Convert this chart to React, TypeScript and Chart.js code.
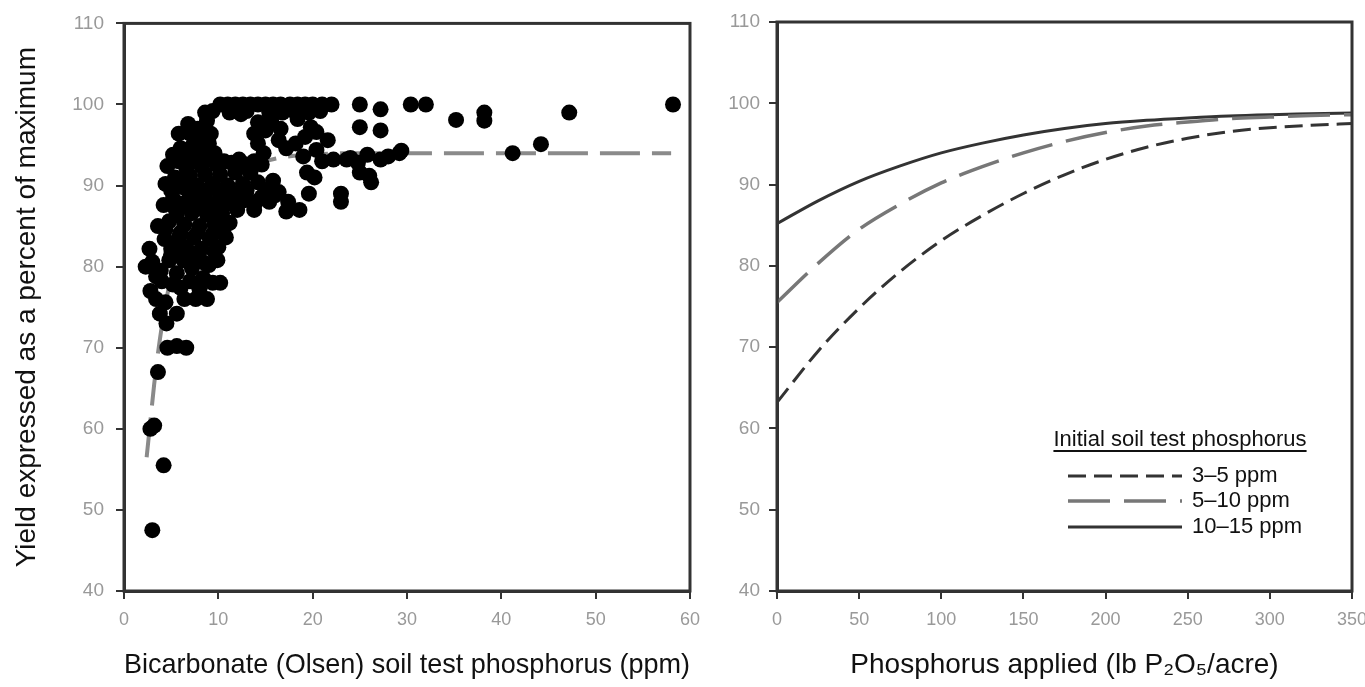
import React, { useEffect, useRef } from 'react';
import { Chart, registerables } from 'chart.js';

Chart.register(...registerables);

const FONT = '"Liberation Sans", Arial, Helvetica, sans-serif';

// ---------- Left panel: soil test P vs relative yield ----------
const olsenP = [
  3.0, 4.2, 2.8, 3.2, 3.6, 4.6, 5.6, 6.6, 4.5, 3.8, 5.6, 2.8, 3.4, 4.4, 6.4, 7.6, 8.8, 10.2,
  2.3, 3.0, 3.9, 4.8, 5.6, 6.3, 7.2, 8.0, 9.0, 9.9, 5.2, 7.0, 8.4,
  2.7, 3.6, 4.3, 5.0, 5.8, 6.6, 7.4, 8.2, 9.1, 10.0, 10.8,
  4.8, 5.6, 6.4, 7.2, 8.0, 8.8, 9.6, 10.4, 11.2,
  4.2, 5.2, 6.2, 7.0, 7.8, 8.6, 9.4, 10.2, 11.0, 12.0, 12.8, 13.8, 14.6,
  4.4, 5.4, 6.2, 7.0, 7.8, 8.6, 9.4, 10.2, 11.0, 11.8, 12.6, 13.4, 14.2, 15.0, 15.8, 16.4, 17.4, 18.6, 17.2,
  4.6, 5.8, 6.6, 7.4, 8.2, 9.0, 9.8, 10.6, 11.4, 12.2, 13.0, 13.8, 14.6, 14.8,
  6.0, 7.2, 8.0, 9.0, 5.8, 9.2, 8.6, 8.6, 9.4, 8.8,
  13.8, 14.2, 15.0, 14.2, 15.6, 16.4, 16.6, 17.2, 18.2, 19.0, 19.4, 19.6, 20.2, 21.0, 20.4, 19.2, 20.4, 21.6, 22.2,
  23.0, 23.0, 24.0, 25.0, 26.0, 27.2, 29.4,
  16.8, 10.2, 11.0, 11.8, 12.6, 13.4, 14.2, 15.0, 15.8, 16.6, 17.6, 18.4, 19.2, 20.0, 21.0, 22.0,
  11.2, 12.4, 13.0, 15.4, 18.0, 19.6, 20.8, 19.8, 18.4,
  25.0, 25.0, 27.2, 27.2, 30.4, 32.0, 29.2, 35.2, 38.2, 38.2, 41.2, 44.2, 47.2, 58.2,
  23.6, 25.8, 26.2, 24.8, 28.0,
  5.0, 6.0, 7.0, 8.6, 9.6, 4.4, 6.0, 7.8, 9.4, 10.6, 5.4, 6.8, 8.2, 9.8, 11.6,
  5.0, 6.6, 8.2, 9.8, 11.4, 13.0, 5.2, 6.4, 7.8, 8.6, 9.6, 12.0, 14.0, 15.4, 16.0,
  4.0, 6.0, 8.0, 9.4, 3.4, 7.0, 7.8, 6.8,
];
const relYield = [
  47.5, 55.5, 60.0, 60.4, 67.0, 70.0, 70.2, 70.0, 73.0, 74.2, 74.2, 77.0, 76.0, 75.6, 76.0, 76.0, 76.0, 78.0,
  80.0, 80.6, 79.5, 80.8, 79.2, 80.8, 79.8, 81.0, 80.2, 80.8, 77.8, 78.2, 78.6,
  82.2, 85.0, 83.4, 82.2, 83.6, 82.4, 83.6, 82.2, 83.4, 82.4, 83.6,
  85.6, 86.4, 85.2, 86.6, 85.0, 86.4, 85.2, 86.6, 85.4,
  87.6, 88.4, 87.8, 88.8, 87.6, 88.6, 87.6, 88.8, 87.8, 87.0, 88.2, 87.0, 88.6,
  90.2, 91.0, 89.8, 91.2, 90.0, 91.4, 90.2, 91.4, 90.0, 91.6, 90.2, 91.6, 90.4, 89.4, 90.6, 89.2, 88.0, 87.0, 86.8,
  92.4, 93.0, 92.2, 93.2, 92.4, 93.4, 92.6, 93.0, 92.8, 93.2, 92.6, 93.0, 92.6, 94.0,
  94.6, 94.8, 95.6, 95.2, 96.4, 96.4, 97.4, 99.0, 99.2, 98.0,
  96.4, 95.2, 96.8, 97.8, 98.0, 95.6, 97.0, 94.6, 95.2, 93.6, 91.6, 89.0, 91.0, 93.0, 94.4, 96.0, 96.6, 95.6, 93.2,
  89.0, 88.0, 93.4, 91.6, 91.2, 93.2, 94.3,
  99.0, 100, 100, 100, 100, 100, 100, 100, 100, 100, 100, 100, 100, 100, 100, 100,
  99.0, 98.8, 99.2, 99.0, 99.2, 99.0, 99.2, 97.2, 98.2,
  100.0, 97.2, 99.4, 96.8, 100.0, 100.0, 94.0, 98.1, 99.0, 98.0, 94.0, 95.1, 99.0, 100.0,
  93.2, 93.8, 90.4, 92.8, 93.6,
  81.5, 82.0, 81.5, 80.4, 81.8, 84.6, 84.2, 84.2, 84.0, 84.8, 87.2, 87.4, 87.2, 87.0, 88.6,
  89.4, 90.6, 89.4, 89.6, 89.2, 89.4, 93.8, 93.8, 93.8, 94.2, 94.0, 89.0, 88.0, 88.0, 88.8,
  78.2, 77.4, 77.2, 78.0, 78.8, 96.4, 97.0, 97.6,
];
const fitP = [2.4, 2.8, 3.2, 3.8, 4.5, 5.5, 7, 9, 12, 16, 21, 26, 58];
const fitYield = [56.5, 61, 65.5, 71, 76, 81, 85.5, 89, 91.8, 93.3, 93.9, 94, 94];

// ---------- Right panel: P applied vs relative yield ----------
const appliedP = [0, 25, 50, 75, 100, 125, 150, 175, 200, 225, 250, 275, 300, 325, 350];
const yield3to5 = [63.2, 69.5, 74.8, 79.3, 83.1, 86.2, 88.9, 91.2, 93.1, 94.6, 95.7, 96.5, 97.0, 97.3, 97.5];
const yield5to10 = [75.5, 80.3, 84.5, 87.6, 90.2, 92.2, 93.9, 95.3, 96.4, 97.2, 97.7, 98.1, 98.3, 98.5, 98.6];
const yield10to15 = [85.2, 88.0, 90.4, 92.3, 93.9, 95.1, 96.1, 96.9, 97.5, 97.9, 98.2, 98.45, 98.6, 98.7, 98.8];
const seriesLabels = ['3–5 ppm', '5–10 ppm', '10–15 ppm'];
const legendTitle = 'Initial soil test phosphorus';

const yTitle = 'Yield expressed as a percent of maximum';
const leftXTitle = 'Bicarbonate (Olsen) soil test phosphorus (ppm)';
const rightXTitle = 'Phosphorus applied (lb P₂O₅/acre)';

const framePlugin = {
  id: 'frame',
  afterDatasetsDraw(chart: any) {
    const { ctx, chartArea: a } = chart;
    ctx.save();
    ctx.strokeStyle = '#333';
    ctx.lineWidth = 3;
    ctx.strokeRect(a.left, a.top, a.right - a.left, a.bottom - a.top);
    ctx.restore();
  },
};

const innerLegendPlugin = {
  id: 'innerLegend',
  afterDraw(chart: any) {
    const { ctx, chartArea: a } = chart;
    ctx.save();
    ctx.font = `22px ${FONT}`;
    ctx.fillStyle = '#111';
    ctx.textAlign = 'center';
    ctx.textBaseline = 'middle';
    const tx = a.right - 172;
    const ty = a.bottom - 151;
    ctx.fillText(legendTitle, tx, ty);
    const w = ctx.measureText(legendTitle).width;
    ctx.fillRect(tx - w / 2, ty + 10, w, 2);
    const rowsY = [a.bottom - 115, a.bottom - 90, a.bottom - 64];
    chart.data.datasets.forEach((ds: any, i: number) => {
      const y = rowsY[i];
      ctx.save();
      ctx.strokeStyle = ds.borderColor;
      ctx.lineWidth = ds.borderWidth;
      ctx.setLineDash(ds.borderDash || []);
      ctx.beginPath();
      ctx.moveTo(a.right - 284, y);
      ctx.lineTo(a.right - 170, y);
      ctx.stroke();
      ctx.restore();
      ctx.textAlign = 'left';
      ctx.fillStyle = '#111';
      ctx.fillText(ds.label, a.right - 160, y);
    });
    ctx.restore();
  },
};

function yAxis(width: number, pad: number, title?: string) {
  return {
    type: 'linear',
    position: 'left',
    min: 40,
    max: 110,
    ticks: { stepSize: 10, color: '#999', font: { family: FONT, size: 19 }, padding: pad },
    grid: { display: true, drawOnChartArea: false, drawTicks: true, tickLength: 8, color: '#333', lineWidth: 2 },
    border: { display: true, color: '#333', width: 3 },
    title: title
      ? { display: true, text: title, color: '#111', font: { family: FONT, size: 28 }, padding: { top: 10, bottom: 0 } }
      : { display: false },
    afterFit: (s: any) => {
      s.width = width;
    },
  };
}

function xAxis(min: number, max: number, step: number, title: string) {
  return {
    type: 'linear',
    position: 'bottom',
    min,
    max,
    ticks: { stepSize: step, color: '#999', font: { family: FONT, size: 18 }, padding: 10, maxRotation: 0 },
    grid: { display: true, drawOnChartArea: false, drawTicks: true, tickLength: 8, color: '#333', lineWidth: 2 },
    border: { display: true, color: '#333', width: 3 },
    title: { display: true, text: title, color: '#111', font: { family: FONT, size: 28 }, padding: { top: 0, bottom: 5 } },
    afterFit: (s: any) => {
      s.height = 96;
    },
  };
}

export default function App() {
  const leftRef = useRef<HTMLCanvasElement>(null);
  const rightRef = useRef<HTMLCanvasElement>(null);

  useEffect(() => {
    const common = {
      responsive: false,
      maintainAspectRatio: false,
      animation: false,
      devicePixelRatio: 1,
      events: [],
    };
    const left = new Chart(leftRef.current as HTMLCanvasElement, {
      type: 'scatter',
      data: {
        datasets: [
          {
            label: 'Observed',
            data: olsenP.map((x, i) => ({ x, y: relYield[i] })),
            pointRadius: 8,
            pointBackgroundColor: '#000',
            pointBorderWidth: 0,
            showLine: false,
          },
          {
            label: 'Fit',
            data: fitP.map((x, i) => ({ x, y: fitYield[i] })),
            showLine: true,
            pointRadius: 0,
            borderColor: '#8a8a8a',
            borderWidth: 4,
            borderDash: [40, 12],
            cubicInterpolationMode: 'monotone',
          },
        ],
      },
      options: {
        ...common,
        layout: { padding: { top: 21, right: 18, left: 0, bottom: 0 } },
        plugins: { legend: { display: false }, tooltip: { enabled: false } },
        scales: {
          x: xAxis(0, 60, 10, leftXTitle),
          y: yAxis(124, 12, yTitle),
        },
      } as any,
      plugins: [framePlugin],
    } as any);

    const mk = (vals: number[]) => appliedP.map((x, i) => ({ x, y: vals[i] }));
    const right = new Chart(rightRef.current as HTMLCanvasElement, {
      type: 'scatter',
      data: {
        datasets: [
          {
            label: seriesLabels[0],
            data: mk(yield3to5),
            showLine: true,
            pointRadius: 0,
            borderColor: '#333',
            borderWidth: 3,
            borderDash: [18, 8],
            cubicInterpolationMode: 'monotone',
          },
          {
            label: seriesLabels[1],
            data: mk(yield5to10),
            showLine: true,
            pointRadius: 0,
            borderColor: '#777',
            borderWidth: 3.5,
            borderDash: [42, 14],
            cubicInterpolationMode: 'monotone',
          },
          {
            label: seriesLabels[2],
            data: mk(yield10to15),
            showLine: true,
            pointRadius: 0,
            borderColor: '#333',
            borderWidth: 3,
            borderDash: [],
            cubicInterpolationMode: 'monotone',
          },
        ],
      },
      options: {
        ...common,
        layout: { padding: { top: 22, right: 28, left: 0, bottom: 0 } },
        plugins: { legend: { display: false }, tooltip: { enabled: false } },
        scales: {
          x: xAxis(0, 350, 50, rightXTitle),
          y: yAxis(67, 9),
        },
      } as any,
      plugins: [framePlugin, innerLegendPlugin],
    } as any);

    return () => {
      left.destroy();
      right.destroy();
    };
  }, []);

  return (
    <div
      style={{
        position: 'fixed',
        left: 0,
        top: 0,
        width: 1365,
        height: 687,
        background: '#fff',
        overflow: 'hidden',
      }}
    >
      <canvas
        ref={leftRef}
        width={710}
        height={687}
        style={{ position: 'absolute', left: 0, top: 0, width: 710, height: 687 }}
      />
      <canvas
        ref={rightRef}
        width={670}
        height={687}
        style={{ position: 'absolute', left: 710, top: 0, width: 670, height: 687 }}
      />
    </div>
  );
}
